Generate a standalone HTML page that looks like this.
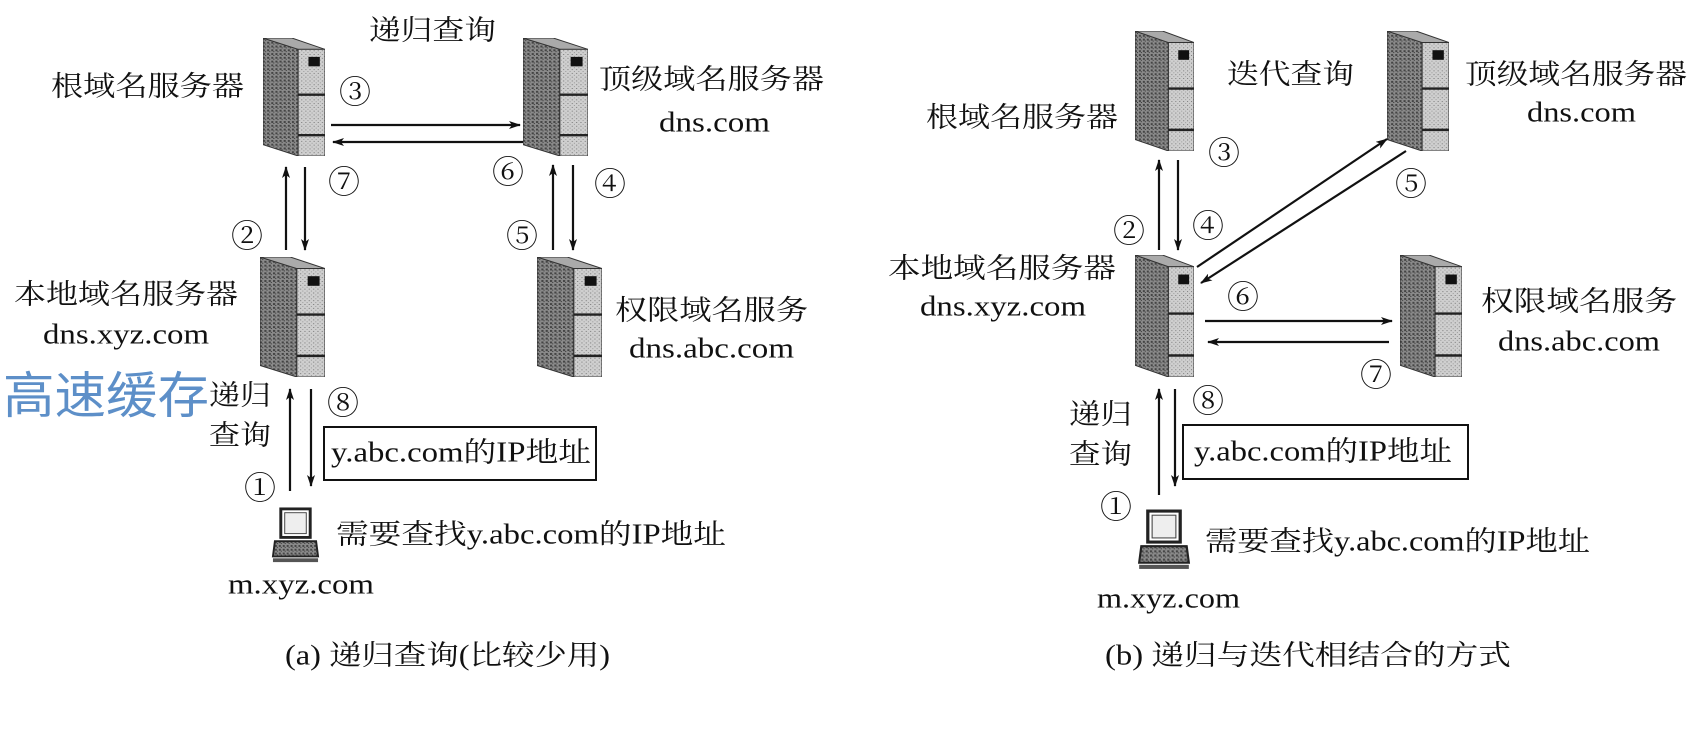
<!DOCTYPE html>
<html><head><meta charset="utf-8"><style>html,body{margin:0;padding:0;background:#fff}svg{display:block}</style></head>
<body>
<svg width="1703" height="740" viewBox="0 0 1703 740" xmlns="http://www.w3.org/2000/svg" font-family="'Liberation Serif','Noto Serif CJK SC',serif" font-size="28" fill="#111">
<defs>
<marker id="ah" viewBox="0 0 12 8" refX="11" refY="4" markerWidth="12" markerHeight="8" markerUnits="userSpaceOnUse" orient="auto"><path d="M0,0 L12,4 L0,8 L3,4 Z" fill="#111"/></marker>
<pattern id="tex" width="4" height="4" patternUnits="userSpaceOnUse"><rect width="4" height="4" fill="#8a8a8a"/><rect x="0" y="0" width="2" height="2" fill="#444"/><rect x="2" y="2" width="1" height="1" fill="#333"/></pattern>
<pattern id="tex2" width="4" height="4" patternUnits="userSpaceOnUse"><rect width="4" height="4" fill="#cfcfcf"/><rect x="1" y="1" width="1" height="1" fill="#777"/><rect x="3" y="3" width="1" height="1" fill="#999"/></pattern>
<symbol id="srv" viewBox="0 0 60 125" preserveAspectRatio="none">
<polygon points="0,0 34,12 34,125 0,113" fill="url(#tex)" stroke="#333" stroke-width="1"/>
<polygon points="0,0 28,0 60,12 34,12" fill="#aaa" stroke="#333" stroke-width="1"/>
<rect x="34" y="12" width="26" height="113" fill="url(#tex2)" stroke="#333" stroke-width="1"/>
<rect x="44" y="20" width="11" height="10" fill="#111"/>
<line x1="34" y1="60" x2="60" y2="60" stroke="#222" stroke-width="2.5"/>
<line x1="34" y1="103" x2="60" y2="103" stroke="#222" stroke-width="2.5"/>
</symbol>
<symbol id="pc" viewBox="0 0 50 60" preserveAspectRatio="none">
<rect x="10" y="2" width="30" height="30" fill="#fff" stroke="#222" stroke-width="3"/>
<rect x="14" y="6" width="22" height="22" fill="#eee" stroke="#444"/>
<polygon points="4,36 46,36 48,52 2,52" fill="url(#tex)" stroke="#222" stroke-width="2"/>
<rect x="2" y="54" width="46" height="4" fill="#555"/>
</symbol>
</defs>

<!-- LEFT PANEL -->
<use href="#srv" x="263" y="38" width="62" height="118"/>
<use href="#srv" x="523" y="38" width="65" height="118"/>
<use href="#srv" x="260" y="257" width="65" height="120"/>
<use href="#srv" x="537" y="257" width="65" height="120"/>
<use href="#pc" x="271" y="507" width="49" height="57"/>

<g stroke="#111" stroke-width="2.2" marker-end="url(#ah)">
<line x1="331" y1="125" x2="520" y2="125"/>
<line x1="523" y1="142" x2="333" y2="142"/>
<line x1="286" y1="250" x2="286" y2="167"/>
<line x1="305" y1="167" x2="305" y2="250"/>
<line x1="553" y1="250" x2="553" y2="165"/>
<line x1="573" y1="165" x2="573" y2="250"/>
<line x1="290" y1="491" x2="290" y2="389"/>
<line x1="311" y1="389" x2="311" y2="486"/>
</g>
<rect x="324" y="427" width="272" height="53" fill="none" stroke="#111" stroke-width="2"/>

<g dominant-baseline="central">
<text x="369" y="31" textLength="127" lengthAdjust="spacingAndGlyphs">递归查询</text>
<text x="51" y="87" textLength="193" lengthAdjust="spacingAndGlyphs">根域名服务器</text>
<text x="599" y="80" textLength="225" lengthAdjust="spacingAndGlyphs">顶级域名服务器</text>
<text x="659" y="123" textLength="111" lengthAdjust="spacingAndGlyphs">dns.com</text>
<text x="14" y="295" textLength="224" lengthAdjust="spacingAndGlyphs">本地域名服务器</text>
<text x="43" y="335" textLength="166" lengthAdjust="spacingAndGlyphs">dns.xyz.com</text>
<text x="615" y="311" textLength="193" lengthAdjust="spacingAndGlyphs">权限域名服务</text>
<text x="629" y="349" textLength="165" lengthAdjust="spacingAndGlyphs">dns.abc.com</text>
<text x="3" y="396" font-size="50" fill="#5d8fc8" font-family="'Liberation Sans','Noto Sans CJK SC',sans-serif" textLength="206" lengthAdjust="spacingAndGlyphs">高速缓存</text>
<text x="209" y="396" textLength="62" lengthAdjust="spacingAndGlyphs">递归</text>
<text x="209" y="436" textLength="62" lengthAdjust="spacingAndGlyphs">查询</text>
<text x="331" y="453" textLength="260" lengthAdjust="spacingAndGlyphs">y.abc.com的IP地址</text>
<text x="336" y="535" textLength="390" lengthAdjust="spacingAndGlyphs">需要查找y.abc.com的IP地址</text>
<text x="228" y="585" textLength="146" lengthAdjust="spacingAndGlyphs">m.xyz.com</text>
<text x="285" y="656" textLength="325" lengthAdjust="spacingAndGlyphs">(a) 递归查询(比较少用)</text>
<g font-size="32" text-anchor="middle">
<text x="355" y="92">③</text><text x="344" y="182">⑦</text><text x="508" y="172">⑥</text><text x="610" y="184">④</text>
<text x="247" y="236">②</text><text x="522" y="236">⑤</text><text x="343" y="403">⑧</text><text x="260" y="488">①</text>
</g>
</g>

<!-- RIGHT PANEL -->
<use href="#srv" x="1135" y="31" width="59" height="120"/>
<use href="#srv" x="1387" y="31" width="62" height="120"/>
<use href="#srv" x="1135" y="255" width="59" height="122"/>
<use href="#srv" x="1400" y="255" width="62" height="122"/>
<use href="#pc" x="1137" y="509" width="54" height="62"/>

<g stroke="#111" stroke-width="2.2" marker-end="url(#ah)">
<line x1="1159" y1="250" x2="1159" y2="160"/>
<line x1="1178" y1="160" x2="1178" y2="250"/>
<line x1="1197" y1="267" x2="1387" y2="139"/>
<line x1="1406" y1="151" x2="1201" y2="283"/>
<line x1="1205" y1="321" x2="1392" y2="321"/>
<line x1="1389" y1="342" x2="1208" y2="342"/>
<line x1="1159" y1="495" x2="1159" y2="389"/>
<line x1="1175" y1="389" x2="1175" y2="486"/>
</g>
<rect x="1183" y="425" width="285" height="54" fill="none" stroke="#111" stroke-width="2"/>

<g dominant-baseline="central">
<text x="1227" y="75" textLength="127" lengthAdjust="spacingAndGlyphs">迭代查询</text>
<text x="926" y="118" textLength="192" lengthAdjust="spacingAndGlyphs">根域名服务器</text>
<text x="1465" y="75" textLength="222" lengthAdjust="spacingAndGlyphs">顶级域名服务器</text>
<text x="1527" y="113" textLength="109" lengthAdjust="spacingAndGlyphs">dns.com</text>
<text x="888" y="269" textLength="228" lengthAdjust="spacingAndGlyphs">本地域名服务器</text>
<text x="920" y="307" textLength="166" lengthAdjust="spacingAndGlyphs">dns.xyz.com</text>
<text x="1481" y="302" textLength="196" lengthAdjust="spacingAndGlyphs">权限域名服务</text>
<text x="1498" y="342" textLength="162" lengthAdjust="spacingAndGlyphs">dns.abc.com</text>
<text x="1069" y="415" textLength="63" lengthAdjust="spacingAndGlyphs">递归</text>
<text x="1069" y="455" textLength="63" lengthAdjust="spacingAndGlyphs">查询</text>
<text x="1194" y="452" textLength="258" lengthAdjust="spacingAndGlyphs">y.abc.com的IP地址</text>
<text x="1205" y="542" textLength="385" lengthAdjust="spacingAndGlyphs">需要查找y.abc.com的IP地址</text>
<text x="1097" y="599" textLength="143" lengthAdjust="spacingAndGlyphs">m.xyz.com</text>
<text x="1105" y="656" textLength="406" lengthAdjust="spacingAndGlyphs">(b) 递归与迭代相结合的方式</text>
<g font-size="32" text-anchor="middle">
<text x="1224" y="153">③</text><text x="1129" y="231">②</text><text x="1208" y="226">④</text><text x="1411" y="184">⑤</text>
<text x="1243" y="297">⑥</text><text x="1376" y="375">⑦</text><text x="1208" y="401">⑧</text><text x="1116" y="507">①</text>
</g>
</g>
</svg>
</body></html>
